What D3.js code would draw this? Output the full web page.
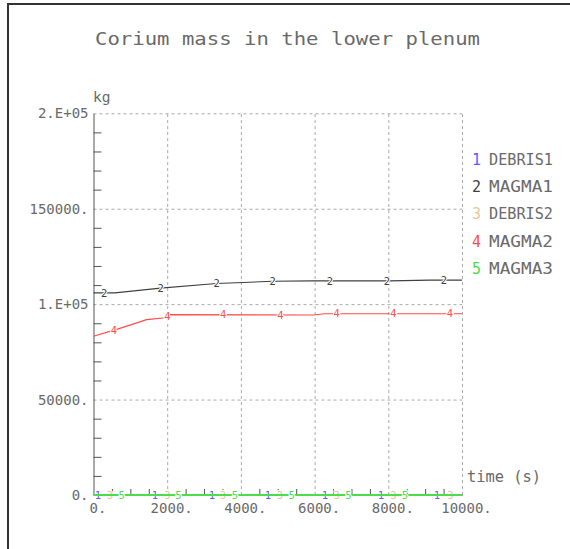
<!DOCTYPE html>
<html>
<head>
<meta charset="utf-8">
<script src="https://cdn.jsdelivr.net/npm/d3@7"></script>
<style>
  body { margin: 0; background: white; }
  text { font-family: "DejaVu Sans Mono", "Liberation Mono", monospace; fill: #6a6a6a; }
  .grid line { stroke: #aaa; stroke-dasharray: 3,3; }
  .grid path { display: none; }
  .minor line, .minor path { stroke: #555; }
</style>
</head>
<body>
<script>
var width = 570;
var height = 549;

// series (time in s, mass in kg)
var seriesNames = ["DEBRIS1", "MAGMA1", "DEBRIS2", "MAGMA2", "MAGMA3"];
var seriesColors = ["#5c5cff", "#404040", "#e6c79a", "#ff4c4c", "#4cdc4c"];

var debris1Time = [0, 10000];
var debris1Mass = [0, 0];
var magma1Time = [0, 580, 1820, 3340, 4860, 5960, 8050, 9130, 10000];
var magma1Mass = [105900, 105900, 108400, 110800, 112000, 112200, 112200, 112600, 112600];
var debris2Time = [0, 10000];
var debris2Mass = [0, 0];
var magma2Time = [0, 560, 990, 1440, 1960, 2040, 5960, 6280, 10000];
var magma2Mass = [83200, 86400, 89000, 91900, 92900, 94500, 94300, 95000, 95000];
var magma3Time = [0, 10000];
var magma3Mass = [0, 0];

// where the curve numbers sit along each line (time)
var markers1 = [122, 1669, 3216, 4735, 6282, 7802, 9322];
var markers2 = [288, 1824, 3343, 4863, 6418, 7965, 9512];
var markers3 = [448, 2003, 3514, 5061, 6600, 8136, 9688];
var markers4 = [556, 2003, 3522, 5075, 6600, 8136, 9674];
var markers5 = [765, 2301, 3840, 5379, 6915, 8453];

var xMajor = [0, 2000, 4000, 6000, 8000, 10000];
var xLabels = ["0.", "2000.", "4000.", "6000.", "8000.", "10000."];
var yMajor = [0, 50000, 100000, 150000, 200000];
var yLabels = ["0.", "50000.", "1.E+05", "150000.", "2.E+05"];

var allSeries = [
  {time: debris1Time, mass: debris1Mass, marks: markers1},
  {time: magma1Time, mass: magma1Mass, marks: markers2},
  {time: debris2Time, mass: debris2Mass, marks: markers3},
  {time: magma2Time, mass: magma2Mass, marks: markers4},
  {time: magma3Time, mass: magma3Mass, marks: markers5}
];

var x = d3.scaleLinear().domain([0, 10000]).range([93.5, 462]);
var y = d3.scaleLinear().domain([0, 200000]).range([495, 113.3]);

var svg = d3.select("body").append("svg")
  .attr("width", width)
  .attr("height", height);

// frame
svg.append("line").attr("x1", 8).attr("x2", 572).attr("y1", 4).attr("y2", 4)
  .attr("stroke", "#333").attr("stroke-width", 2);
svg.append("line").attr("x1", 8).attr("x2", 8).attr("y1", 3).attr("y2", 552)
  .attr("stroke", "#333").attr("stroke-width", 2);

svg.append("text")
  .attr("x", 95).attr("y", 45)
  .attr("font-size", 18)
  .attr("textLength", 385).attr("lengthAdjust", "spacingAndGlyphs")
  .text("Corium mass in the lower plenum");

// dashed grid
svg.append("g").attr("class", "grid")
  .attr("transform", "translate(0," + y(0) + ")")
  .call(d3.axisBottom(x).tickValues(xMajor.slice(1)).tickSize(-(y(0) - y(200000))).tickFormat(""));
svg.append("g").attr("class", "grid")
  .attr("transform", "translate(" + x(0) + ",0)")
  .call(d3.axisLeft(y).tickValues(yMajor.slice(1)).tickSize(-(x(10000) - x(0))).tickFormat(""));

// minor ticks pointing inside
svg.append("g").attr("class", "minor")
  .attr("transform", "translate(" + x(0) + ",0)")
  .call(d3.axisRight(y).tickValues(d3.range(10000, 200000, 10000).filter(function(v) { return v % 50000 != 0; }))
    .tickSize(8).tickSizeOuter(0).tickFormat(""));
svg.append("g").attr("class", "minor")
  .attr("transform", "translate(0," + y(0) + ")")
  .call(d3.axisTop(x).tickValues(d3.range(500, 10000, 500).filter(function(v) { return v % 2000 != 0; }))
    .tickSize(6).tickSizeOuter(0).tickFormat(""));

// tick labels
var yLab = svg.append("g")
  .attr("transform", "translate(" + x(0) + ",0)")
  .call(d3.axisLeft(y).tickValues(yMajor).tickSize(0).tickPadding(5)
    .tickFormat(function(d, i) { return yLabels[i]; }));
yLab.select(".domain").remove();
yLab.selectAll("text").attr("font-size", 14).attr("font-family", null).attr("fill", null);

var xLab = svg.append("g")
  .attr("transform", "translate(0," + y(0) + ")")
  .call(d3.axisBottom(x).tickValues(xMajor).tickSize(0).tickPadding(8)
    .tickFormat(function(d, i) { return xLabels[i]; }));
xLab.select(".domain").remove();
xLab.selectAll("text").attr("font-size", 14).attr("font-family", null).attr("fill", null).attr("dx", 4);

svg.append("text").attr("x", 93).attr("y", 101.5).attr("font-size", 14.5).text("kg");
svg.append("text").attr("x", 467).attr("y", 482).attr("font-size", 15)
  .attr("textLength", 74).attr("lengthAdjust", "spacingAndGlyphs").text("time (s)");

// curves
var line = d3.line()
  .x(function(d) { return x(d[0]); })
  .y(function(d) { return y(d[1]); });

allSeries.forEach(function(s, i) {
  var pts = s.time.map(function(t, j) { return [t, s.mass[j]]; });
  svg.append("path")
    .datum(pts)
    .attr("fill", "none")
    .attr("stroke", seriesColors[i])
    .attr("stroke-width", i == 4 ? 2 : 1.1)
    .attr("d", line);

  var interp = d3.scaleLinear().domain(s.time).range(s.mass);
  svg.selectAll(".mk" + i)
    .data(s.marks)
    .enter()
    .append("text")
    .attr("class", "mk" + i)
    .attr("x", function(d) { return x(d); })
    .attr("y", function(d) { return y(interp(d)); })
    .attr("dy", "0.35em")
    .attr("text-anchor", "middle")
    .attr("font-size", 10.5)
    .style("fill", seriesColors[i])
    .style("stroke", "white")
    .style("stroke-width", 2)
    .style("paint-order", "stroke")
    .text(i + 1);
});

// legend
var legend = svg.append("g");
seriesNames.forEach(function(name, i) {
  legend.append("text")
    .attr("x", 472).attr("y", 164.5 + i * 27.4)
    .attr("font-size", 15)
    .style("fill", seriesColors[i])
    .text(i + 1);
  legend.append("text")
    .attr("x", 489).attr("y", 164.5 + i * 27.4)
    .attr("font-size", 15)
    .attr("textLength", 64).attr("lengthAdjust", "spacingAndGlyphs")
    .text(name);
});
</script>
</body>
</html>
